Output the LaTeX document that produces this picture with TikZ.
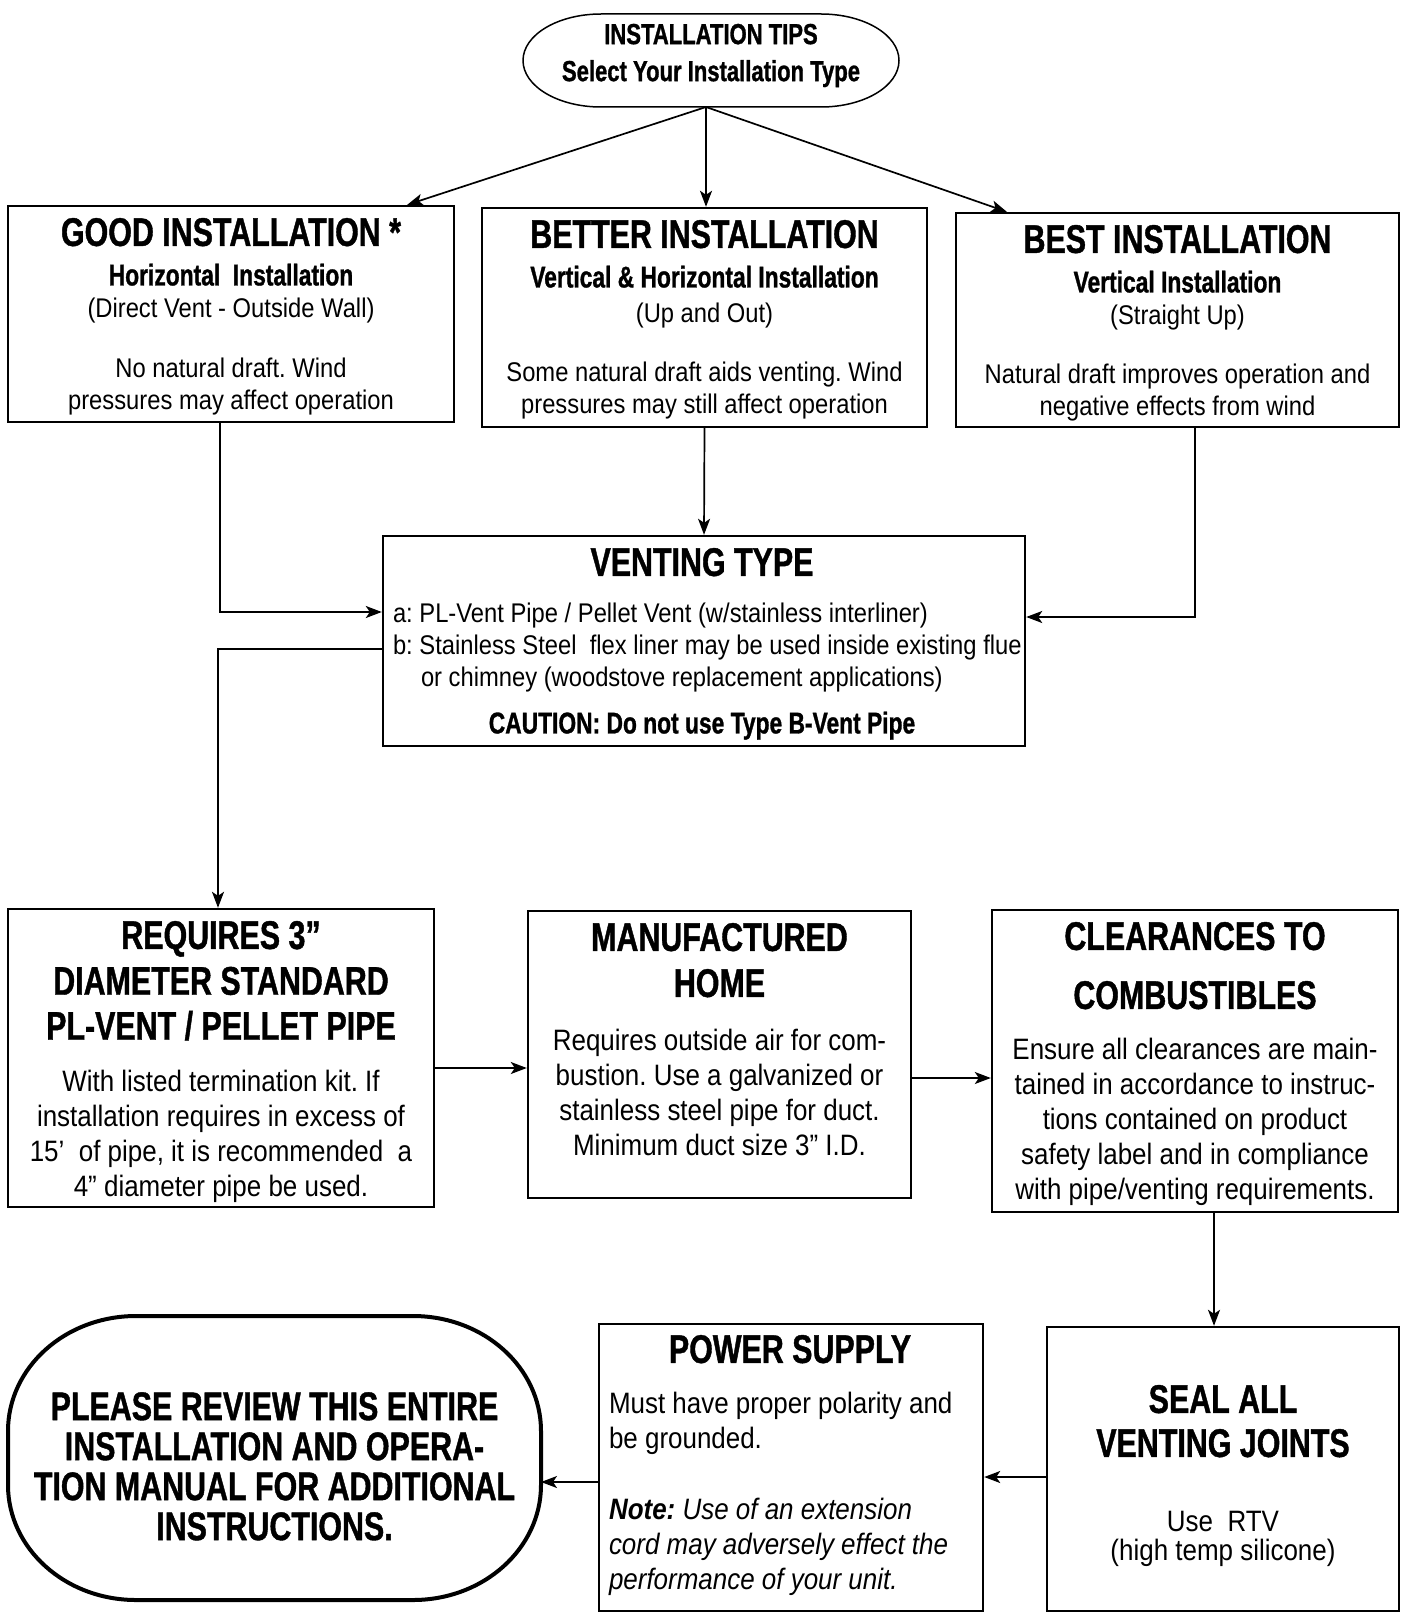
\documentclass[tikz,border=0pt]{standalone}
\usepackage{fontspec}
\setmainfont{Liberation Sans}[FakeStretch=0.88]
\newfontfamily\headfont{Liberation Sans}[FakeStretch=0.76, BoldFeatures={FakeBold=1}]
\usetikzlibrary{arrows.meta,positioning,shapes.geometric}
\frenchspacing

\newcommand{\hd}{\headfont\bfseries\fontsize{40}{40}\selectfont}
\newcommand{\subhd}{\headfont\bfseries\fontsize{30}{32}\selectfont}
\newcommand{\smtxt}{\fontsize{27}{32}\selectfont}
\newcommand{\bgtxt}{\fontsize{29.5}{35}\selectfont}

\tikzset{
  box/.style={draw, line width=2.4pt, inner sep=0pt},
  txt/.style={inner sep=0pt, align=center},
  conn/.style={line width=1.7pt, -{Stealth[length=16pt,width=12pt,inset=4pt]}},
}

\begin{document}
\begin{tikzpicture}[x=1pt,y=-1pt]
\useasboundingbox (0,0) rectangle (1405,1613);

% start
\node[inner sep=0pt, outer sep=0pt, minimum width=376pt, minimum height=93pt] (tips) at (711,60.5) {};
\draw[line width=1.5pt] ([xshift=78pt]tips.north west) -- ([xshift=-78pt]tips.north east)
  arc[start angle=90, end angle=-90, x radius=78pt, y radius=46.5pt] -- ([xshift=78pt]tips.south west)
  arc[start angle=270, end angle=90, x radius=78pt, y radius=46.5pt] -- cycle;
\node[txt, font=\headfont\bfseries\fontsize{29}{37}\selectfont, yshift=5pt] (tipstext) at (tips.center)
  {INSTALLATION TIPS\\Select Your Installation Type};

% installation types
\node[box, minimum width=446pt, minimum height=216pt] (good) at (231,314) {};
\node[txt, font=\smtxt, below=13pt of good.north] (goodtext)
  {{\hd GOOD INSTALLATION *}\\[7.5pt]{\subhd Horizontal\ \ Installation}\\(Direct Vent - Outside Wall)\\[28pt]No natural draft. Wind\\pressures may affect operation};
\node[box, minimum width=445pt, minimum height=219pt] (better) at (704.5,317.5) {};
\node[txt, font=\smtxt, below=13pt of better.north] (bettertext)
  {{\hd BETTER INSTALLATION}\\[7.5pt]{\subhd Vertical \& Horizontal Installation}\\[3.5pt](Up and Out)\\[27pt]Some natural draft aids venting. Wind\\pressures may still affect operation};
\node[box, minimum width=443pt, minimum height=214pt] (best) at (1177.5,320) {};
\node[txt, font=\smtxt, below=13pt of best.north] (besttext)
  {{\hd BEST INSTALLATION}\\[7.5pt]{\subhd Vertical Installation}\\(Straight Up)\\[27pt]Natural draft improves operation and\\negative effects from wind};

% venting
\node[box, minimum width=642pt, minimum height=210pt] (vent) at (704,641) {};
\node[txt, align=left, font=\smtxt, below right=13pt and 11pt of vent.north west] (venttext)
  {\makebox[618pt]{\hd VENTING TYPE}\\[15pt]
   a: PL-Vent Pipe / Pellet Vent (w/stainless interliner)\\
   b: Stainless Steel\ \ flex liner may be used inside existing flue\\
   \hspace*{28pt}or chimney (woodstove replacement applications)\\[14.5pt]
   \makebox[618pt]{\subhd CAUTION: Do not use Type B-Vent Pipe}};

% middle row
\node[box, minimum width=426pt, minimum height=298pt] (req) at (221,1058) {};
\node[txt, font=\bgtxt, below=13pt of req.north] (reqtext)
  {{\hd REQUIRES 3”}\\[9pt]{\hd DIAMETER STANDARD}\\[10pt]{\hd PL-VENT / PELLET PIPE}\\[16.5pt]
   With listed termination kit. If\\installation requires in excess of\\15’\ \ of pipe, it is recommended\ \ a\\4” diameter pipe be used.};
\node[box, minimum width=383pt, minimum height=287pt] (manuf) at (719.5,1054.5) {};
\node[txt, font=\bgtxt, below=13pt of manuf.north] (manuftext)
  {{\hd MANUFACTURED}\\[11pt]{\hd HOME}\\[18.5pt]
   Requires outside air for com-\\bustion. Use a galvanized or\\stainless steel pipe for duct.\\Minimum duct size 3” I.D.};
\node[box, minimum width=406pt, minimum height=302pt] (clear) at (1195,1061) {};
\node[txt, font=\bgtxt, below=13pt of clear.north] (cleartext)
  {{\hd CLEARANCES TO}\\[24pt]{\hd COMBUSTIBLES}\\[16pt]
   Ensure all clearances are main-\\tained in accordance to instruc-\\tions contained on product\\safety label and in compliance\\with pipe/venting requirements.};

% bottom row
\node[box, minimum width=352pt, minimum height=284pt] (seal) at (1223,1469) {};
\node[txt, font=\fontsize{29.5}{29}\selectfont, below=59pt of seal.north] (sealtext)
  {{\hd SEAL ALL}\\[15pt]{\hd VENTING JOINTS}\\[46pt]Use\ \ RTV\\(high temp silicone)};
\node[box, minimum width=384pt, minimum height=287pt] (power) at (791,1467.5) {};
\node[txt, align=left, font=\bgtxt, below right=12pt and 11pt of power.north west] (powertext)
  {\makebox[362pt]{\hd POWER SUPPLY}\\[16pt]
   Must have proper polarity and\\be grounded.\\[36pt]
   {\bfseries\itshape Note:} {\itshape Use of an extension}\\
   {\itshape cord may adversely effect the}\\
   {\itshape performance of your unit.}};
\node[inner sep=0pt, outer sep=0pt, minimum width=533pt, minimum height=284pt] (review) at (274.5,1458) {};
\draw[line width=4pt] ([xshift=128pt]review.north west) -- ([xshift=-128pt]review.north east)
  arc[start angle=90, end angle=0, x radius=128pt, y radius=115pt] -- ([yshift=115pt]review.south east)
  arc[start angle=0, end angle=-90, x radius=128pt, y radius=115pt] -- ([xshift=128pt]review.south west)
  arc[start angle=270, end angle=180, x radius=128pt, y radius=115pt] -- ([yshift=-115pt]review.north west)
  arc[start angle=180, end angle=90, x radius=128pt, y radius=115pt] -- cycle;
\node[txt, font=\hd, below=76pt of review.north] (reviewtext)
  {PLEASE REVIEW THIS ENTIRE\\INSTALLATION AND OPERA-\\TION MANUAL FOR ADDITIONAL\\INSTRUCTIONS.};

% connectors
\draw[conn] ([xshift=-5pt]tips.south) -- ([xshift=-48pt]good.north east);
\draw[conn] ([xshift=-5pt]tips.south) -- ([xshift=1.5pt]better.north);
\draw[conn] ([xshift=-5pt]tips.south) -- ([xshift=52pt]best.north west);
\draw[conn] ([xshift=-11pt]good.south) |- ([yshift=29pt]vent.west);
\draw[conn] (better.south) -- (vent.north);
\draw[conn] ([xshift=17.5pt]best.south) |- ([yshift=24pt]vent.east);
\draw[conn] ([yshift=-8pt]vent.west) -| ([xshift=-3pt]req.north);
\coordinate (rq) at ([yshift=-10pt]req.east);
\draw[conn] (rq) -- (rq -| manuf.west);
\coordinate (mf) at ([yshift=-17pt]clear.west);
\draw[conn] (mf -| manuf.east) -- (mf);
\coordinate (cl) at ([xshift=19pt]clear.south);
\draw[conn] (cl) -- (cl |- seal.north);
\coordinate (sl) at ([yshift=-8pt]seal.west);
\draw[conn] (sl) -- (sl -| power.east);
\coordinate (pw) at ([yshift=-14.5pt]power.west);
\draw[conn] (pw) -- (pw -| review.east);
\end{tikzpicture}
\end{document}
